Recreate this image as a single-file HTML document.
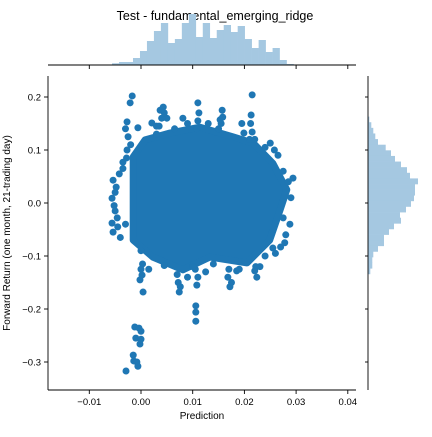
<!DOCTYPE html>
<html><head><meta charset="utf-8"><style>
body{margin:0;background:#fff}
svg text{font-family:"Liberation Sans","DejaVu Sans",sans-serif;fill:#000}
</style></head><body>
<svg id="chart" width="432" height="432" viewBox="0 0 432 432">
<text x="215" y="20" font-size="12.5" text-anchor="middle">Test - fundamental_emerging_ridge</text>
<g id="top-hist"></g>
<g id="right-hist"></g>
<g id="scatter"></g>
<g id="axes"></g>
<text x="202" y="419" font-size="10" text-anchor="middle">Prediction</text>
<text transform="translate(10,233) rotate(-90)" font-size="10" text-anchor="middle">Forward Return (one month, 21-trading day)</text>
</svg>
<script>
const xTicks=[-0.01,0,0.01,0.02,0.03,0.04];
const xTickLabels=["−0.01","0.00","0.01","0.02","0.03","0.04"];
const yTicks=[0.2,0.1,0,-0.1,-0.2,-0.3];
const yTickLabels=["0.2","0.1","0.0","−0.1","−0.2","−0.3"];
const coreX=[-0.0015,-0.0015,0.0008,0.0056,0.0114,0.0178,0.0217,0.0255,0.0282,0.0269,0.0249,0.0205,0.0133,0.0081,0.0023];
const coreY=[-0.070,0.087,0.119,0.132,0.143,0.125,0.113,0.075,0.025,-0.013,-0.070,-0.113,-0.102,-0.126,-0.102];
const ptX=[-0.0012,-0.0004,0,-0.001,0,-0.0002,-0.0015,-0.0014,-0.0008,-0.0006,-0.0029,0.0004,0.0106,0.0106,0.0106,-0.0002,0.0074,0.0108,0.0172,0.0224,0.0002,-0.0017,-0.0021,-0.0027,0.0215,0.0213,0.0215,0.0199,0.011,0.0037,0.0157,-0.0027,0.0294,-0.0054,-0.0056,-0.0056,-0.0054,-0.0046,-0.0035,0.0275,0.027,0.025,0.0043,0.0153,0.0081,-0.0006,0.0021,0.0015,0.009,0.0125,0.0185,0.023,0.005,0.0195,
 -0.0020,-0.0025,-0.0030,-0.0028,-0.0035,-0.0042,-0.0048,-0.0050,-0.0052,-0.0050,-0.0045,-0.0040,-0.0030,
 0.0035,0.0040,0.0030,0.0045,0.0110,0.0112,0.0108,0.0155,0.0158,0.0150,0.0210,0.0212,0.0220,0.0240,0.0258,0.0265,0.0275,0.0285,0.0290,0.0288,0.0280,0.0278,
 0.0000,0.0003,0.0000,0.0070,0.0072,0.0076,0.0105,0.0110,0.0100,0.0170,0.0168,0.0175,0.0222,0.0220,0.0240,0.0255,0.0260,0.0045,0.0140,0.0190,0.0030,0.0090,0.0065,0.0130];
const ptY=[-0.234,-0.236,-0.242,-0.255,-0.257,-0.266,-0.287,-0.298,-0.300,-0.308,-0.317,-0.168,-0.194,-0.206,-0.223,-0.145,-0.168,-0.155,-0.158,-0.140,-0.136,0.202,0.189,0.153,0.204,0.166,0.134,0.132,0.189,0.175,0.175,0.100,0.047,0.043,0.009,-0.038,-0.055,-0.028,0.077,-0.028,-0.083,0.113,0.181,0.157,0.160,0.142,0.151,-0.125,-0.14,-0.13,-0.128,-0.12,0.16,0.15,
 0.110,0.125,0.140,0.085,0.065,0.055,0.030,0.020,-0.005,-0.015,-0.045,-0.065,-0.040,
 0.145,0.160,0.130,0.170,0.155,0.170,0.140,0.150,0.162,0.140,0.120,0.150,0.120,0.105,0.100,0.090,0.060,0.040,0.010,-0.040,-0.060,-0.075,
 -0.090,-0.115,-0.125,-0.135,-0.150,-0.158,-0.125,-0.140,-0.120,-0.125,-0.140,-0.150,-0.120,-0.128,-0.100,-0.085,-0.095,-0.118,-0.115,-0.125,0.145,0.150,0.140,0.150];
const topCounts=[1.7,3,3,7,14,24,34,42,22,26,42,51,28,42,27,35,40,33,39,26,17,25,13,17,5,1];
const topStart=-0.0056, topBin=0.00135;
const rightCounts=[1.3,3.3,5.3,7.3,10,17.7,23,27,33,39,42,50,47,47,46,43,38,32,33,26,21,16,16,10,5.3,4.3,4.3,2.3];
const rightStart=0.163, rightBin=0.0106;

const X=v=>141+v*5170, Y=v=>203-v*530;
const NS="http://www.w3.org/2000/svg";
function mk(tag,attrs,parent){const e=document.createElementNS(NS,tag);for(const k in attrs)e.setAttribute(k,attrs[k]);parent.appendChild(e);return e;}
const C="#1f77b4", H="#a5c8e1";
const th=document.getElementById('top-hist');
topCounts.forEach((c,i)=>{const x0=X(topStart+i*topBin),x1=X(topStart+(i+1)*topBin);
 const r=mk('rect',{x:x0,y:65-c,width:x1-x0+0.3,height:c,fill:H},th);
 
 });
const rh=document.getElementById('right-hist');
rightCounts.forEach((c,i)=>{const y0=Y(rightStart-i*rightBin),y1=Y(rightStart-(i+1)*rightBin);
 const r=mk('rect',{x:368,y:y0,width:c,height:y1-y0+0.3,fill:H},rh);
 
 });
const sc=document.getElementById('scatter');
const d=coreX.map((x,i)=>(i?'L':'M')+X(x).toFixed(1)+' '+Y(coreY[i]).toFixed(1)).join(' ')+'Z';
const core=mk('path',{d:d,fill:C,stroke:C,'stroke-width':7,'stroke-linejoin':'round'},sc);


const n=Math.min(ptX.length,ptY.length);
for(let i=0;i<n;i++){const p=mk('circle',{cx:X(ptX[i]),cy:Y(ptY[i]),r:3.5,fill:C},sc);
 
 }
const ax=document.getElementById('axes');
mk('line',{x1:48,y1:76,x2:48,y2:390,stroke:'#000','stroke-width':0.9},ax);
mk('line',{x1:48,y1:390,x2:356,y2:390,stroke:'#000','stroke-width':0.9},ax);
mk('line',{x1:48,y1:65,x2:356,y2:65,stroke:'#000','stroke-width':0.9},ax);
mk('line',{x1:368,y1:76,x2:368,y2:390,stroke:'#000','stroke-width':0.9},ax);
xTicks.forEach((v,i)=>{const x=X(v);
 mk('line',{x1:x,y1:390,x2:x,y2:394,stroke:'#000','stroke-width':0.9},ax);
 mk('line',{x1:x,y1:65,x2:x,y2:69,stroke:'#000','stroke-width':0.9},ax);
 const t=mk('text',{x:x,y:405,'font-size':9.5,'text-anchor':'middle'},ax);t.textContent=xTickLabels[i];
 
 });
yTicks.forEach((v,i)=>{const y=Y(v);
 mk('line',{x1:44,y1:y,x2:48,y2:y,stroke:'#000','stroke-width':0.9},ax);
 mk('line',{x1:365,y1:y,x2:368,y2:y,stroke:'#000','stroke-width':0.9},ax);
 const t=mk('text',{x:41,y:y+3.5,'font-size':9.5,'text-anchor':'end'},ax);t.textContent=yTickLabels[i];
 
 });
</script>
</body></html>
